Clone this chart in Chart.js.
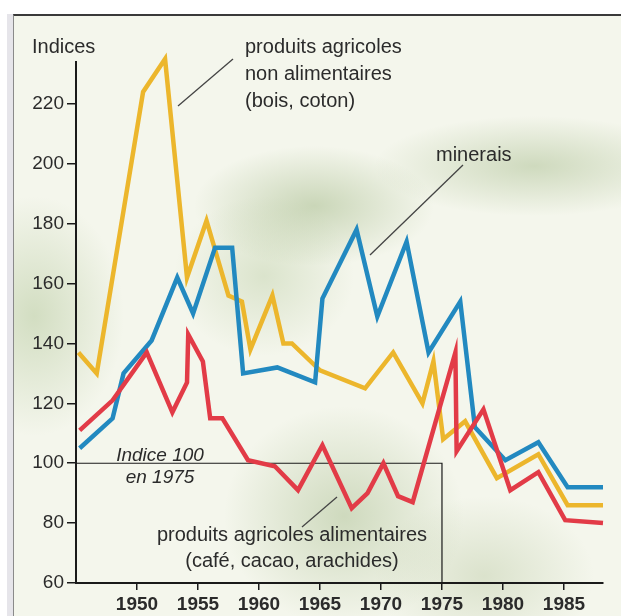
<!DOCTYPE html>
<html>
<head>
<meta charset="utf-8">
<script src="https://cdn.jsdelivr.net/npm/chart.js@4/dist/chart.umd.min.js"></script>
<style>
  html,body{margin:0;padding:0;background:#fff;}
  #wrap{position:relative;width:621px;height:616px;overflow:hidden;background:#fff;}
  #strip{position:absolute;left:7px;top:14px;width:6px;height:602px;background:#e6e5ea;}
  #paper{
    position:absolute;left:13px;top:14px;right:0;bottom:0;
    border-top:2px solid #3a3a3a;border-left:1px solid #8a8a8a;
    background:
      radial-gradient(ellipse 120px 60px at 300px 190px, rgba(150,175,120,.45), transparent),
      radial-gradient(ellipse 160px 50px at 520px 150px, rgba(150,175,120,.40), transparent),
      radial-gradient(ellipse 90px 120px at 20px 300px, rgba(160,185,130,.40), transparent),
      radial-gradient(ellipse 120px 110px at 330px 500px, rgba(150,175,120,.40), transparent),
      radial-gradient(ellipse 110px 80px at 470px 560px, rgba(160,180,130,.30), transparent),
      radial-gradient(ellipse 90px 80px at 250px 260px, rgba(160,185,130,.30), transparent),
      #f4f6ec;
  }
  canvas{position:absolute;left:0;top:0;}
</style>
</head>
<body>
<div id="wrap">
  <div id="strip"></div>
  <div id="paper"></div>
  <canvas id="chart" width="621" height="616"></canvas>
</div>
<script>
// ================= DONNEES =================
// annees (abscisses) et indices (base 100 en 1975)
const anneesNonAlim = [1945.2,1946.7,1950.5,1952.3,1954.1,1955.7,1957.5,1958.6,1959.3,1961.1,1962.0,1962.7,1965.0,1968.7,1971.0,1973.4,1974.3,1975.1,1976.9,1979.5,1982.9,1985.3,1988.2];
const indicesNonAlim = [137,130,224,235,162,181,156,154,138,156,140,140,131,125,137,120,134,108,114,95,103,86,86];

const anneesMinerais = [1945.3,1948.0,1948.9,1951.2,1953.3,1954.6,1956.4,1957.8,1958.7,1961.5,1964.6,1965.2,1968.0,1969.7,1972.1,1973.9,1976.5,1977.7,1980.2,1982.9,1985.3,1988.2];
const indicesMinerais = [105,115,130,141,162,150,172,172,130,132,127,155,178,149,174,137,154,112,101,107,92,92];

const anneesAlim = [1945.3,1948.0,1950.8,1952.9,1954.1,1954.2,1955.4,1956.0,1957.0,1959.1,1961.3,1963.2,1965.2,1967.6,1968.9,1970.2,1971.4,1972.6,1976.1,1976.2,1978.4,1980.6,1982.9,1985.1,1988.2];
const indicesAlim = [111,121,137,117,127,143,134,115,115,101,99,91,106,85,90,100,89,87,137,104,118,91,97,81,80];

// cadre "Indice 100 en 1975"
const cadreAnnees = [1945,1975,1975];
const cadreIndices = [100,100,60];

const yTicks = [60,80,100,120,140,160,180,200,220];
const xTicks = [1950,1955,1960,1965,1970,1975,1980,1985];

// ================= COULEURS =================
const JAUNE = "#ecb62c";
const BLEU = "#2289c0";
const ROUGE = "#e23b47";
const TEXTE = "#2b2b2b";
const FONT = "'Liberation Sans', Arial, sans-serif";

function points(xs, ys){ return xs.map((x,i)=>({x, y: ys[i]})); }

function serie(xs, ys, color){
  return {
    data: points(xs, ys),
    borderColor: color,
    borderWidth: 4.5,
    borderJoinStyle: "miter",
    pointRadius: 0,
    tension: 0,
    clip: false
  };
}

// ================= ANNOTATIONS =================
const annotations = {
  id: "annotations",
  afterDraw(chart){
    const c = chart.ctx;
    c.save();
    c.fillStyle = TEXTE;
    c.textBaseline = "alphabetic";

    c.font = `20px ${FONT}`;
    c.textAlign = "left";
    c.fillText("Indices", 32, 53);
    c.fillText("produits agricoles", 245, 53);
    c.fillText("non alimentaires", 245, 80);
    c.fillText("(bois, coton)", 245, 107);
    c.fillText("minerais", 436, 161);

    c.textAlign = "center";
    c.fillText("produits agricoles alimentaires", 292, 541);
    c.fillText("(café, cacao, arachides)", 292, 567);

    c.font = `italic 19px ${FONT}`;
    c.fillText("Indice 100", 160, 461);
    c.fillText("en 1975", 160, 483);

    // traits de rappel
    c.strokeStyle = "#444";
    c.lineWidth = 1.3;
    [[233,59,178,106],[463,165,370,255],[337,497,302,527]].forEach(([x1,y1,x2,y2])=>{
      c.beginPath(); c.moveTo(x1,y1); c.lineTo(x2,y2); c.stroke();
    });
    c.restore();
  }
};

// ================= GRAPHIQUE =================
const ctx = document.getElementById("chart").getContext("2d");
new Chart(ctx, {
  type: "line",
  data: {
    datasets: [
      serie(anneesAlim, indicesAlim, ROUGE),
      serie(anneesMinerais, indicesMinerais, BLEU),
      serie(anneesNonAlim, indicesNonAlim, JAUNE),
      { data: points(cadreAnnees, cadreIndices), borderColor: "#1a1a1a", borderWidth: 1.2, pointRadius: 0, clip: false }
    ]
  },
  options: {
    responsive: false,
    animation: false,
    devicePixelRatio: 1,
    layout: { padding: { left: 0, top: 62, right: 18, bottom: 0 } },
    plugins: { legend: { display: false }, tooltip: { enabled: false } },
    scales: {
      x: {
        type: "linear",
        min: 1945,
        max: 1988.2,
        afterFit: s => { s.height = 33; },
        afterBuildTicks: s => { s.ticks = xTicks.map(v => ({ value: v })); },
        border: { display: true, color: "#1a1a1a", width: 2 },
        grid: { drawOnChartArea: false, drawTicks: true, tickLength: 7, color: "#1a1a1a", lineWidth: 1.5 },
        ticks: {
          color: TEXTE,
          padding: 3,
          maxRotation: 0,
          font: { family: FONT, size: 19, weight: "bold" },
          callback: v => String(v)
        }
      },
      y: {
        min: 60,
        max: 234,
        afterFit: s => { s.width = 76; },
        afterBuildTicks: s => { s.ticks = yTicks.map(v => ({ value: v })); },
        border: { display: true, color: "#1a1a1a", width: 2 },
        grid: { drawOnChartArea: false, drawTicks: true, tickLength: 9, color: "#1a1a1a", lineWidth: 1.5 },
        ticks: {
          color: TEXTE,
          padding: 3,
          font: { family: FONT, size: 19 },
          callback: v => String(v)
        }
      }
    }
  },
  plugins: [annotations]
});
</script>
</body>
</html>
